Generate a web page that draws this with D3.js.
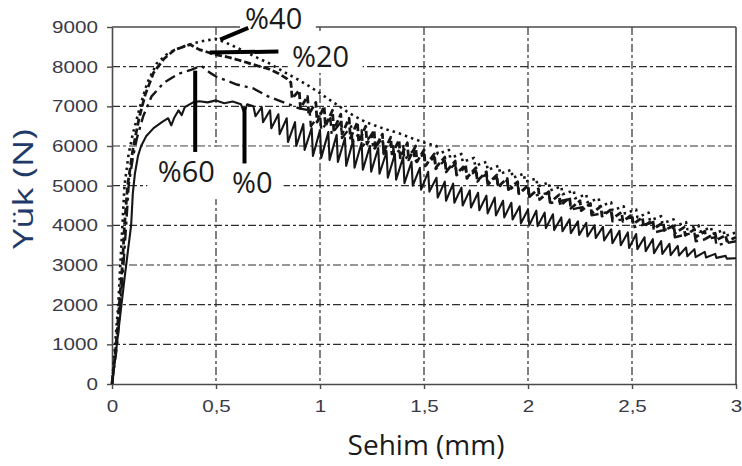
<!DOCTYPE html>
<html><head><meta charset="utf-8">
<script src="https://cdn.jsdelivr.net/npm/d3@7"></script>
<style>body{margin:0;background:#fff}</style>
</head><body>
<svg id="c" width="742" height="466"></svg>
<script>
// ---------- data ----------
const xTicks = [0, 0.5, 1, 1.5, 2, 2.5, 3];
const xTickLabels = ["0", "0,5", "1", "1,5", "2", "2,5", "3"];
const yTicks = [0, 1000, 2000, 3000, 4000, 5000, 6000, 7000, 8000, 9000];
const seriesNames = ["%0", "%20", "%40", "%60"];

// %0 (solid): head points [x, load], teeth [x, peak, trough], tail points
const s0Head = [[0,0],[0.02,850],[0.04,1750],[0.06,2650],[0.08,3500],[0.092,4000],[0.1,4800],[0.11,5300],[0.125,5750],[0.14,6000],[0.165,6250],[0.2,6450],[0.24,6600],[0.27,6700],[0.285,6520],[0.3,6720],[0.32,6900],[0.335,6780],[0.35,6980],[0.39,7100],[0.42,7130],[0.46,7100],[0.5,7150],[0.54,7080],[0.58,7120],[0.62,7050],[0.635,6850],[0.65,7050],[0.68,7000],[0.69,6750]];
const s0Teeth = [[0.72,6980,6600],[0.76,6900,6450],[0.80,6800,6300],[0.84,6700,6100],[0.88,6600,6000],[0.92,6550,5900],[0.96,6450,5750],[1.00,6400,5700],[1.04,6350,5650],[1.08,6280,5600],[1.12,6200,5500],[1.16,6150,5450],[1.20,6080,5400],[1.24,6000,5350],[1.28,5950,5300],[1.32,5850,5200],[1.36,5800,5150],[1.40,5720,5060],[1.44,5600,5000],[1.48,5450,4900],[1.52,5350,4850],[1.56,5200,4700],[1.60,5100,4620],[1.64,5050,4570],[1.68,4950,4500],[1.72,4880,4450],[1.76,4820,4380],[1.80,4750,4300],[1.84,4700,4250],[1.88,4620,4200],[1.92,4570,4150],[1.96,4480,4050],[2.00,4400,4000],[2.04,4370,3980],[2.08,4320,3930],[2.12,4280,3880],[2.16,4200,3850],[2.20,4150,3800],[2.24,4100,3760],[2.28,4060,3720],[2.32,4000,3680],[2.36,3960,3620],[2.40,3900,3550],[2.44,3860,3500],[2.48,3820,3430],[2.52,3780,3400],[2.56,3700,3350],[2.60,3650,3300],[2.64,3600,3280],[2.68,3530,3250],[2.72,3480,3240],[2.76,3440,3220],[2.80,3400,3200],[2.85,3330,3190],[2.90,3280,3180],[2.95,3230,3160]];
const s0Tail = [[3.0,3170]];

// %20 (heavy dashes)
const s20Head = [[0,0],[0.02,1000],[0.035,2000],[0.05,3000],[0.06,4000],[0.075,5000],[0.1,5900],[0.13,6700],[0.16,7300],[0.2,7850],[0.25,8200],[0.3,8420],[0.375,8560],[0.42,8430],[0.5,8300],[0.55,8250],[0.6,8180],[0.65,8100],[0.7,8020],[0.75,7950],[0.8,7830],[0.84,7700]];
const s20Teeth = [[0.86,7600,7200],[0.90,7400,6950],[0.94,7250,6800],[0.98,7100,6600],[1.02,7000,6500],[1.06,6900,6400],[1.10,6800,6300],[1.14,6700,6200],[1.18,6600,6100],[1.22,6500,6050],[1.26,6400,5950],[1.30,6300,5850],[1.34,6220,5800],[1.38,6150,5700],[1.42,6080,5650],[1.46,6000,5600],[1.50,5900,5500],[1.55,5800,5450],[1.60,5720,5350],[1.65,5620,5300],[1.70,5530,5200],[1.75,5450,5120],[1.80,5350,5050],[1.85,5270,4970],[1.90,5180,4900],[1.95,5100,4800],[2.00,5000,4720],[2.05,4920,4650],[2.10,4850,4580],[2.15,4770,4500],[2.20,4700,4430],[2.25,4620,4370],[2.30,4550,4300],[2.35,4480,4230],[2.40,4400,4170],[2.45,4330,4100],[2.50,4270,4030],[2.55,4200,3970],[2.60,4130,3920],[2.65,4070,3870],[2.70,4000,3800],[2.75,3950,3750],[2.80,3900,3700],[2.85,3850,3670],[2.90,3800,3630],[2.95,3750,3600]];
const s20Tail = [[3.0,3700]];

// %40 (dotted)
const s40Head = [[0,0],[0.015,1000],[0.03,2000],[0.04,3000],[0.05,4000],[0.06,5000],[0.08,5800],[0.1,6300],[0.135,7000],[0.17,7600],[0.215,8080],[0.26,8300],[0.3,8420],[0.35,8520],[0.4,8600],[0.45,8660],[0.5,8700],[0.55,8600],[0.6,8480],[0.65,8350],[0.7,8220],[0.75,8100],[0.8,7950],[0.85,7800],[0.9,7660],[0.95,7500],[1.0,7330],[1.07,7080],[1.14,6830],[1.22,6600],[1.3,6450],[1.38,6320],[1.45,6180],[1.51,6070]];
const s40Teeth = [[1.56,6000,5800],[1.62,5900,5700],[1.68,5800,5600],[1.74,5700,5500],[1.80,5600,5400],[1.86,5500,5300],[1.92,5400,5200],[1.98,5300,5100],[2.04,5180,4980],[2.10,5080,4880],[2.16,4980,4780],[2.22,4880,4680],[2.28,4780,4580],[2.34,4680,4480],[2.40,4580,4380],[2.46,4480,4300],[2.52,4400,4200],[2.58,4320,4120],[2.64,4230,4050],[2.70,4150,3980],[2.76,4080,3900],[2.82,4000,3840],[2.88,3950,3780],[2.94,3880,3730]];
const s40Tail = [[3.0,3820]];

// %60 (long dash-dot)
const s60Head = [[0,0],[0.025,1000],[0.04,2000],[0.055,3000],[0.068,4000],[0.08,5000],[0.1,5700],[0.12,6200],[0.15,6750],[0.19,7250],[0.25,7600],[0.32,7820],[0.38,7920],[0.43,8020],[0.47,7850],[0.5,7750],[0.55,7650],[0.6,7550],[0.68,7450],[0.75,7250],[0.8,7150],[0.85,7050],[0.9,6950]];
const s60Teeth = [[0.95,6900,6500],[1.00,6800,6400],[1.05,6700,6300],[1.10,6600,6200],[1.15,6500,6100],[1.20,6400,6000],[1.25,6300,5900],[1.30,6200,5800],[1.35,6100,5750],[1.40,6000,5650],[1.45,5900,5600],[1.50,5800,5500],[1.55,5720,5420],[1.60,5640,5340],[1.65,5550,5260],[1.70,5470,5180],[1.75,5380,5100],[1.80,5300,5020],[1.85,5220,4950],[1.90,5140,4870],[1.95,5060,4800],[2.00,4980,4720],[2.10,4820,4560],[2.20,4660,4400],[2.30,4500,4250],[2.40,4350,4100],[2.50,4200,3950],[2.60,4070,3820],[2.70,3940,3700],[2.80,3820,3600],[2.90,3700,3500]];
const s60Tail = [[3.0,3600]];

// annotation pointers: [x, load] endpoints
const annotations = [
  {name:"%40", text:[0.64, 8960], box:[0.615, 0.98, 9200, 8250], line:[[0.52,8680],[0.655,8980]]},
  {name:"%20", text:[0.865, 8000], box:[0.845, 1.205, 8900, 7840], line:[[0.47,8360],[0.8,8380]]},
  {name:"%60", text:[0.22, 5090], box:[0.17, 0.825, 5980, 4660], line:[[0.4,7900],[0.4,5850]]},
  {name:"%0",  text:[0.577, 4820], box:null, line:[[0.637,6980],[0.637,5560]]}
];

// ---------- drawing ----------
const W = 742, H = 466;
const m = {left:112, top:27, right:6, bottom:82};
const iw = W - m.left - m.right, ih = H - m.top - m.bottom;
const svg = d3.select("#c");
const g = svg.append("g").attr("transform", `translate(${m.left},${m.top})`);
const x = d3.scaleLinear().domain([0,3]).range([0, iw]);
const y = d3.scaleLinear().domain([0,9000]).range([ih, 0]);

const gridCol = "#2e2e2e";
// grid
g.append("g").selectAll("line").data(yTicks.filter(v => v > 0 && v < 9000)).join("line")
  .attr("x1", 0).attr("x2", iw).attr("y1", d => y(d)).attr("y2", d => y(d))
  .attr("stroke", gridCol).attr("stroke-width", 1.2).attr("stroke-dasharray", "8,3,3,3");
g.append("g").selectAll("line").data(xTicks.filter(v => v > 0 && v < 3)).join("line")
  .attr("y1", 0).attr("y2", ih).attr("x1", d => x(d)).attr("x2", d => x(d))
  .attr("stroke", gridCol).attr("stroke-width", 1.2).attr("stroke-dasharray", "8,3,3,3");

// frame top/right
g.append("line").attr("x1", 0).attr("x2", iw).attr("y1", 0).attr("y2", 0).attr("stroke", "#4a4a4a").attr("stroke-width", 1.6);
g.append("line").attr("x1", iw).attr("x2", iw).attr("y1", 0).attr("y2", ih).attr("stroke", "#4a4a4a").attr("stroke-width", 1.6);

// white boxes behind annotation text (drawn over grid, under curves)
annotations.filter(a => a.box).forEach(a => {
  const [x0, x1, yTop, yBot] = a.box;
  g.append("rect").attr("x", x(x0)).attr("y", y(yTop))
    .attr("width", x(x1) - x(x0)).attr("height", y(yBot) - y(yTop)).attr("fill", "#fff");
});

// axes
const xAxis = d3.axisBottom(x).tickValues(xTicks).tickSize(5).tickSizeOuter(0)
  .tickFormat((d, i) => xTickLabels[i]);
const yAxis = d3.axisLeft(y).tickValues(yTicks).tickSize(5).tickSizeOuter(0)
  .tickFormat(d => String(d));
const gx = g.append("g").attr("transform", `translate(0,${ih})`).call(xAxis);
const gy = g.append("g").call(yAxis);
[gx, gy].forEach(a => {
  a.select(".domain").attr("stroke", "#4a4a4a").attr("stroke-width", 1.6);
  a.selectAll(".tick line").attr("stroke", "#4a4a4a").attr("stroke-width", 1.4);
  a.selectAll(".tick text").attr("fill", "#3a3a46")
    .style("font-family", "'Liberation Sans', Arial, sans-serif").style("font-size", "16px");
});
gx.selectAll(".tick text").attr("y", 17).attr("dy", "0.71em").attr("transform", "scale(1.29,1)");
gy.selectAll(".tick text").attr("x", -14 / 1.29).attr("dy", "0.34em").attr("transform", "scale(1.29,1)");

// curves
svg.append("defs").append("clipPath").attr("id", "clip").append("rect")
  .attr("x", -2).attr("y", -4).attr("width", iw + 3).attr("height", ih + 4);
function build(head, teeth, tail) {
  const pts = head.slice();
  teeth.forEach(t => { pts.push([t[0], t[1]]); pts.push([t[0] + 0.006, t[2]]); });
  return pts.concat(tail);
}
const series = [
  {name:"%60", pts: build(s60Head, s60Teeth, s60Tail), w:2.4, dash:"11,5,3,5"},
  {name:"%40", pts: build(s40Head, s40Teeth, s40Tail), w:2.6, dash:"2.5,4"},
  {name:"%20", pts: build(s20Head, s20Teeth, s20Tail), w:2.8, dash:"7,3"},
  {name:"%0",  pts: build(s0Head, s0Teeth, s0Tail), w:2.1, dash:null}
];
const line = d3.line().x(d => x(d[0])).y(d => y(d[1]));
const gc = g.append("g").attr("clip-path", "url(#clip)");
series.forEach(s => {
  gc.append("path").datum(s.pts).attr("d", line).attr("fill", "none")
    .attr("stroke", "#161616").attr("stroke-width", s.w)
    .attr("stroke-linejoin", "round")
    .attr("stroke-dasharray", s.dash);
});

// annotations
annotations.forEach(a => {
  g.append("line").attr("x1", x(a.line[0][0])).attr("y1", y(a.line[0][1]))
    .attr("x2", x(a.line[1][0])).attr("y2", y(a.line[1][1]))
    .attr("stroke", "#000").attr("stroke-width", 4);
  g.append("text").attr("x", x(a.text[0])).attr("y", y(a.text[1])).text(a.name)
    .attr("fill", "#1a1a1a").style("font-family", "'Open Sans', sans-serif").style("font-size", "29px");
});

// titles
svg.append("text").attr("transform", "translate(33,189) rotate(-90) scale(1.3,1)")
  .attr("text-anchor", "middle").text("Yük (N)").attr("fill", "#1f3a68")
  .style("font-family", "'Open Sans', sans-serif").style("font-size", "28px");
svg.append("text").attr("x", 426).attr("y", 455).attr("text-anchor", "middle")
  .text("Sehim (mm)").attr("fill", "#1a1a1a")
  .style("font-family", "'Open Sans', sans-serif").style("font-size", "28px");
</script>
</body></html>
